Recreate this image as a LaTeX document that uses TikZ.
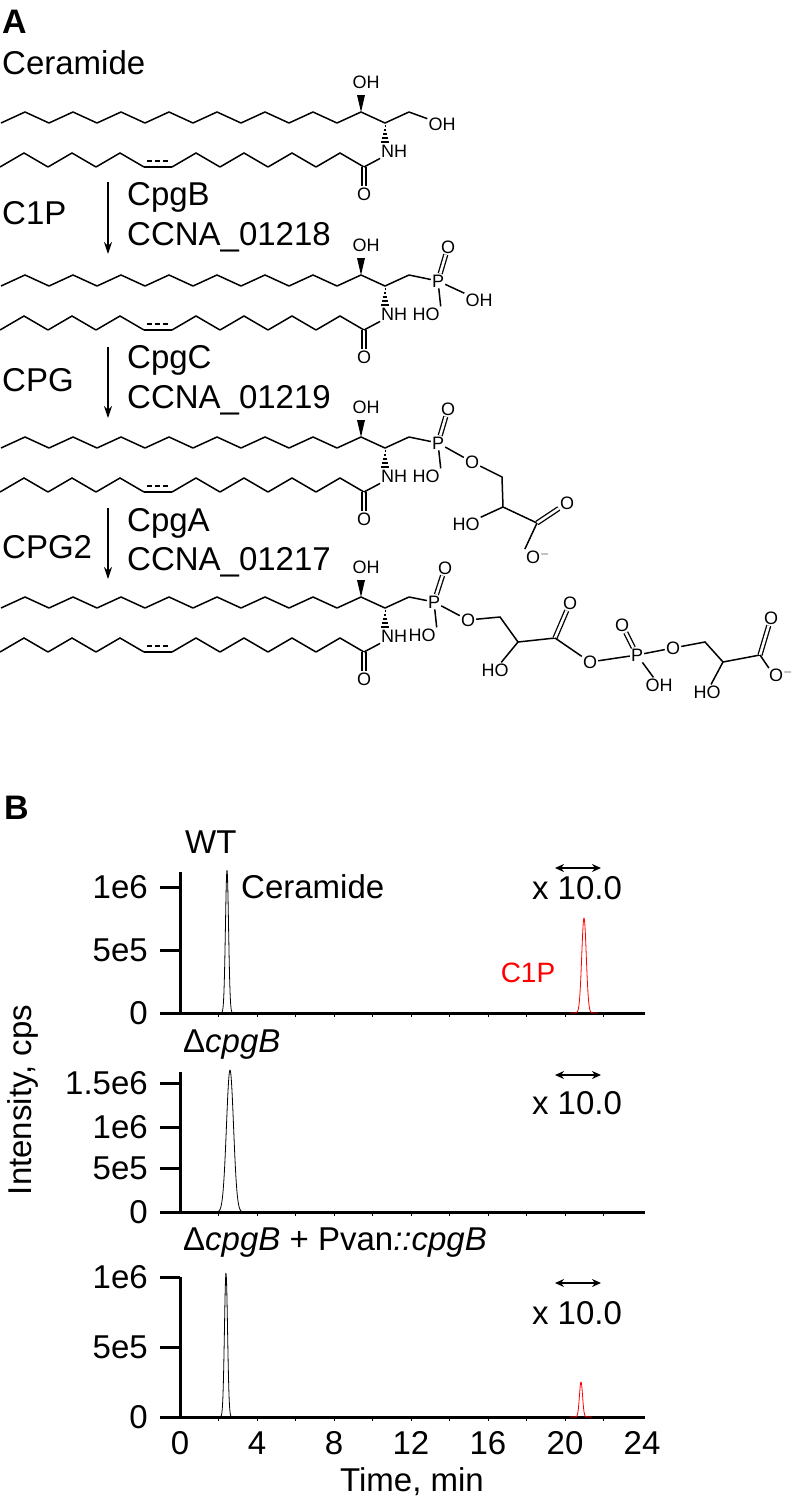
\documentclass[tikz,border=0pt]{standalone}
\usepackage{fontspec}
\setmainfont{Liberation Sans}
\usetikzlibrary{arrows.meta}
\newcommand\bigfont{\fontsize{33}{36}\selectfont}
\newcommand\atomfont{\fontsize{18}{20}\selectfont}
\newcommand\redfont{\fontsize{28}{30}\selectfont}
\tikzset{
  bond/.style={line width=1.5pt},
  dbl/.style={line width=1.3pt, double, double distance=2.6pt},
  atom/.style={font=\atomfont, inner sep=1pt},
  lbl/.style={font=\bigfont, anchor=west, inner sep=0pt},
  tick/.style={font=\bigfont, anchor=east, inner sep=0pt},
  axis/.style={line width=3pt},
  trace/.style={line width=0.8pt},
  step arrow/.style={line width=1.4pt, -{Stealth[length=12pt,width=8pt]}},
}
% backbone of the sphingolipid, drawn in a shifted scope
\newcommand\backbone{%
  \foreach \x in {25,73,...,313} \draw[bond] (\x-24,123)--(\x,112)--(\x+24,123);
  \coordinate (c15) at (385,123);
  \coordinate (c16) at (409,112);
  \draw[bond] (337,123)--(361,112)--(c15)--(c16);
  \fill (361,112)--(357,95)--(365,95)--cycle;
  \node[atom] (oh) at (366,82) {OH};
  \foreach \k in {0,...,4} \draw[line width=1.2pt] (384.5-\k*0.9,126+\k*4)--(385.5+\k*0.9,126+\k*4);
  \node[atom] (nh) at (394,151) {NH};
  % fatty acyl chain
  \foreach \x in {24,72,120} \draw[bond] (\x-24,167)--(\x,153)--(\x+24,167);
  \draw[bond] (144,167)--(172,167);
  \draw[bond, dashed, dash pattern=on 5pt off 3pt] (147,161)--(170,161);
  \foreach \x in {196,244,292,340} \draw[bond] (\x-24,167)--(\x,153)--(\x+24,167);
  \coordinate (co) at (364,167);
  \node[atom] (oc) at (364,194) {O};
  \draw[dbl] (co)--(oc);
  \draw[bond] (co)--(nh);
}
\begin{document}
\begin{tikzpicture}[x=1pt,y=-1pt]
\useasboundingbox (0,0) rectangle (792,1508);
% Panel A
\node[lbl, font=\fontsize{34}{36}\selectfont\bfseries] (pA) at (2,22) {A};
\node[lbl] (cer) at (2,63) {Ceramide};
\node[lbl] (c1p) at (2,213) {C1P};
\node[lbl] (cpgB) at (127,197) {CpgB};
\node[lbl] (ccnaB) at (127,237) {CCNA\_01218};
\node[lbl] (cpg) at (2,380) {CPG};
\node[lbl] (cpgC) at (127,360) {CpgC};
\node[lbl] (ccnaC) at (127,400) {CCNA\_01219};
\node[lbl] (cpg2) at (2,547) {CPG2};
\node[lbl] (cpgA) at (127,523) {CpgA};
\node[lbl] (ccnaA) at (127,562) {CCNA\_01217};
\coordinate (s1) at (108,182); \coordinate (e1) at (108,254);
\coordinate (s2) at (108,347); \coordinate (e2) at (108,418);
\coordinate (s3) at (108,508); \coordinate (e3) at (108,579);
\draw[step arrow] (s1)--(e1);
\draw[step arrow] (s2)--(e2);
\draw[step arrow] (s3)--(e3);
% Ceramide
\begin{scope}
  \backbone
  \node[atom] (oh1) at (442,124) {OH};
  \draw[bond] (c16)--(oh1);
\end{scope}
% C1P
\begin{scope}[shift={(0,163)}]
  \backbone
  \node[atom] (p) at (438,118) {P};
  \node[atom] (po) at (448,84) {O};
  \node[atom] (pr) at (479,137) {OH};
  \node[atom] (pl) at (426,151) {HO};
  \draw[bond] (c16)--(p);
  \draw[dbl] (p)--(po);
  \draw[bond] (p)--(pr);
  \draw[bond] (p)--(pl.north east);
\end{scope}
% CPG
\begin{scope}[shift={(0,325)}]
  \backbone
  \node[atom] (p) at (438,118) {P};
  \node[atom] (po) at (448,84) {O};
  \node[atom] (pl) at (426,151) {HO};
  \node[atom] (oe) at (472,137) {O};
  \coordinate (g1) at (502,152);
  \coordinate (g2) at (503,182);
  \coordinate (g3) at (537,198);
  \node[atom] (ho) at (466,199) {HO};
  \node[atom] (co1) at (567,178) {O};
  \node[atom] (om) at (538,232) {O$^-$};
  \draw[bond] (c16)--(p);
  \draw[dbl] (p)--(po);
  \draw[bond] (p)--(pl.north east);
  \draw[bond] (p)--(oe)--(g1)--(g2)--(g3);
  \draw[bond] (g2)--(ho);
  \draw[dbl] (g3)--(co1);
  \draw[bond] (g3)--(om.north west);
\end{scope}
% CPG2
\begin{scope}[shift={(0,485)}]
  \backbone
  \node[atom] (p) at (434,117) {P};
  \node[atom] (po) at (445,83) {O};
  \node[atom] (pl) at (422,150) {HO};
  \node[atom] (oe) at (468,135) {O};
  \coordinate (g1) at (500,132);
  \coordinate (g2) at (518,157);
  \coordinate (g3) at (555,153);
  \node[atom] (ho) at (495,185) {HO};
  \node[atom] (co1) at (570,118) {O};
  \node[atom] (ob) at (590,177) {O};
  \node[atom] (p2) at (637,170) {P};
  \node[atom] (p2o) at (622,140) {O};
  \node[atom] (p2h) at (659,200) {OH};
  \node[atom] (oe2) at (673,163) {O};
  \coordinate (h1) at (705,157);
  \coordinate (h2) at (723,177);
  \coordinate (h3) at (760,170);
  \node[atom] (ho2) at (707,207) {HO};
  \node[atom] (co2) at (771,133) {O};
  \node[atom, inner sep=0pt] (om) at (781,190) {O$^-$};
  \draw[bond] (c16)--(p);
  \draw[dbl] (p)--(po);
  \draw[bond] (p)--(pl.north east);
  \draw[bond] (p)--(oe)--(g1)--(g2)--(g3);
  \draw[bond] (g2)--(ho);
  \draw[dbl] (g3)--(co1);
  \draw[bond] (g3)--(ob)--(p2)--(oe2)--(h1)--(h2)--(h3);
  \draw[dbl] (p2)--(p2o);
  \draw[bond] (p2)--(p2h);
  \draw[bond] (h2)--(ho2);
  \draw[dbl] (h3)--(co2);
  \draw[bond] (h3)--(om.north west);
\end{scope}
% Panel B
\node[lbl, font=\fontsize{34}{36}\selectfont\bfseries] (pB) at (4,808) {B};
\node[lbl] (wt) at (185,842) {WT};
\node[lbl] (dB) at (183,1045) {Δ\textit{cpgB}};
\node[lbl] (dBc) at (183,1243) {Δ\textit{cpgB} + Pvan\textit{::cpgB}};
\node[font=\bigfont, rotate=90, inner sep=0pt] (ylab) at (23,1100) {Intensity, cps};
% WT
\draw[axis] (180,872)--(180,1013);
\draw[axis] (160,1013)--(645,1013);
\foreach \y/\t in {887/1e6,950/5e5,1013/0} {
  \draw[axis] (160,\y)--(180,\y);
  \node[tick] at (148,\y) {\t};
}
\foreach \t in {2,4,...,22} \draw[thin] ({180+19.25*\t},1013)--++(0,4);
\draw[trace] plot[domain=214:240, samples=80] (\x,{1013-143*exp(-((\x-227)/2.2)^2)});
\draw[trace, red] plot[domain=570:598, samples=80] (\x,{1013-95*exp(-((\x-584)/3.2)^2)});
\node[lbl] (cerp) at (241,887) {Ceramide};
\node[font=\bigfont, inner sep=0pt] (x1) at (577,888) {x 10.0};
\draw[line width=2pt, {Stealth[length=9pt,width=8pt]}-{Stealth[length=9pt,width=8pt]}] (555,868)--(601,868);
\node[font=\redfont, text=red, inner sep=0pt] (c1pl) at (528,973) {C1P};
% cpgB
\draw[axis] (180,1072)--(180,1212);
\draw[axis] (160,1212)--(645,1212);
\foreach \y/\t in {1083/1.5e6,1127/1e6,1168/5e5,1212/0} {
  \draw[axis] (160,\y)--(180,\y);
  \node[tick] at (148,\y) {\t};
}
\foreach \t in {2,4,...,22} \draw[thin] ({180+19.25*\t},1212)--++(0,4);
\draw[trace] plot[domain=212:252, samples=80] (\x,{1212-142*exp(-((\x-230)/5)^2)});
\node[font=\bigfont, inner sep=0pt] (x2) at (577,1103) {x 10.0};
\draw[line width=2pt, {Stealth[length=9pt,width=8pt]}-{Stealth[length=9pt,width=8pt]}] (555,1075)--(601,1075);
% complemented
\draw[axis] (180,1277)--(180,1417);
\draw[axis] (160,1417)--(645,1417);
\foreach \y/\t in {1277/1e6,1347/5e5,1417/0} {
  \draw[axis] (160,\y)--(180,\y);
  \node[tick] at (148,\y) {\t};
}
\foreach \t in {2,4,...,22} \draw[thin] ({180+19.25*\t},1417)--++(0,4);
\draw[trace] plot[domain=214:240, samples=80] (\x,{1417-144*exp(-((\x-226)/2.2)^2)});
\draw[trace, red] plot[domain=570:592, samples=80] (\x,{1417-35*exp(-((\x-581)/2.2)^2)});
\node[font=\bigfont, inner sep=0pt] (x3) at (577,1313) {x 10.0};
\draw[line width=2pt, {Stealth[length=9pt,width=8pt]}-{Stealth[length=9pt,width=8pt]}] (555,1283)--(601,1283);
\foreach \t in {0,4,...,24} \node[font=\bigfont, inner sep=0pt] at ({180+19.25*\t},1443) {\t};
\node[font=\bigfont, inner sep=0pt] (xlab) at (412,1482) {Time, min};
\end{tikzpicture}
\end{document}
